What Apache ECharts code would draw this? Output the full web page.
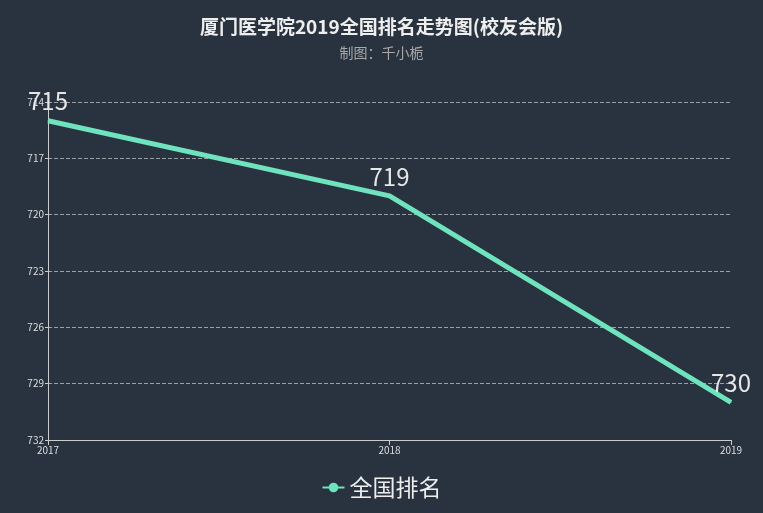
<!DOCTYPE html>
<html lang="zh">
<head>
    <meta charset="UTF-8">
    <script src="https://cdn.jsdelivr.net/npm/echarts@6/dist/echarts.min.js"></script>
    <style>
        html, body { margin: 0; padding: 0; background: #ffffff; }
        #main { width: 763px; height: 513px; }
    </style>
</head>
<body>
    <div id="main"></div>
    <script>
        var years = ['2017', '2018', '2019'];
        var ranks = [715, 719, 730];
        var seriesName = '全国排名';

        var myChart = echarts.init(document.getElementById('main'));
        var option = {
            backgroundColor: '#29333f',
            textStyle: { fontFamily: '"Noto Sans CJK SC", "Noto Sans", sans-serif' },
            title: {
                text: '厦门医学院2019全国排名走势图(校友会版)',
                subtext: '制图：千小栀',
                left: 'center',
                top: 12,
                itemGap: 10,
                textStyle: { color: '#eeeeee', fontSize: 19, fontWeight: 'bold' },
                subtextStyle: { color: '#a8a8a8', fontSize: 14 }
            },
            legend: {
                bottom: 9,
                data: [seriesName],
                itemWidth: 22,
                itemHeight: 12,
                textStyle: { color: '#eeeeee', fontSize: 23 }
            },
            grid: { left: 48, right: 32, top: 102, bottom: 73 },
            xAxis: {
                type: 'category',
                boundaryGap: false,
                data: years,
                axisLine: { lineStyle: { color: '#cccccc' } },
                axisTick: { lineStyle: { color: '#cccccc' } },
                axisLabel: { color: '#dddddd', fontSize: 10, margin: 5 }
            },
            yAxis: {
                type: 'value',
                inverse: true,
                min: 714,
                max: 732,
                interval: 3,
                axisLine: { show: true, lineStyle: { color: '#cccccc' } },
                axisTick: { show: true, length: 3, lineStyle: { color: '#cccccc' } },
                axisLabel: { color: '#dddddd', fontSize: 10, margin: 4 },
                splitLine: { lineStyle: { color: '#9aa0a6', type: 'dashed' } }
            },
            series: [{
                name: seriesName,
                type: 'line',
                data: ranks,
                symbol: 'circle',
                symbolSize: 1,
                itemStyle: { color: '#6fe3bd' },
                lineStyle: { width: 5, color: '#6fe3bd' },
                label: {
                    show: true,
                    position: 'top',
                    color: '#e6e6e6',
                    fontSize: 24,
                    distance: 7
                }
            }]
        };
        myChart.setOption(option);
    </script>
</body>
</html>
